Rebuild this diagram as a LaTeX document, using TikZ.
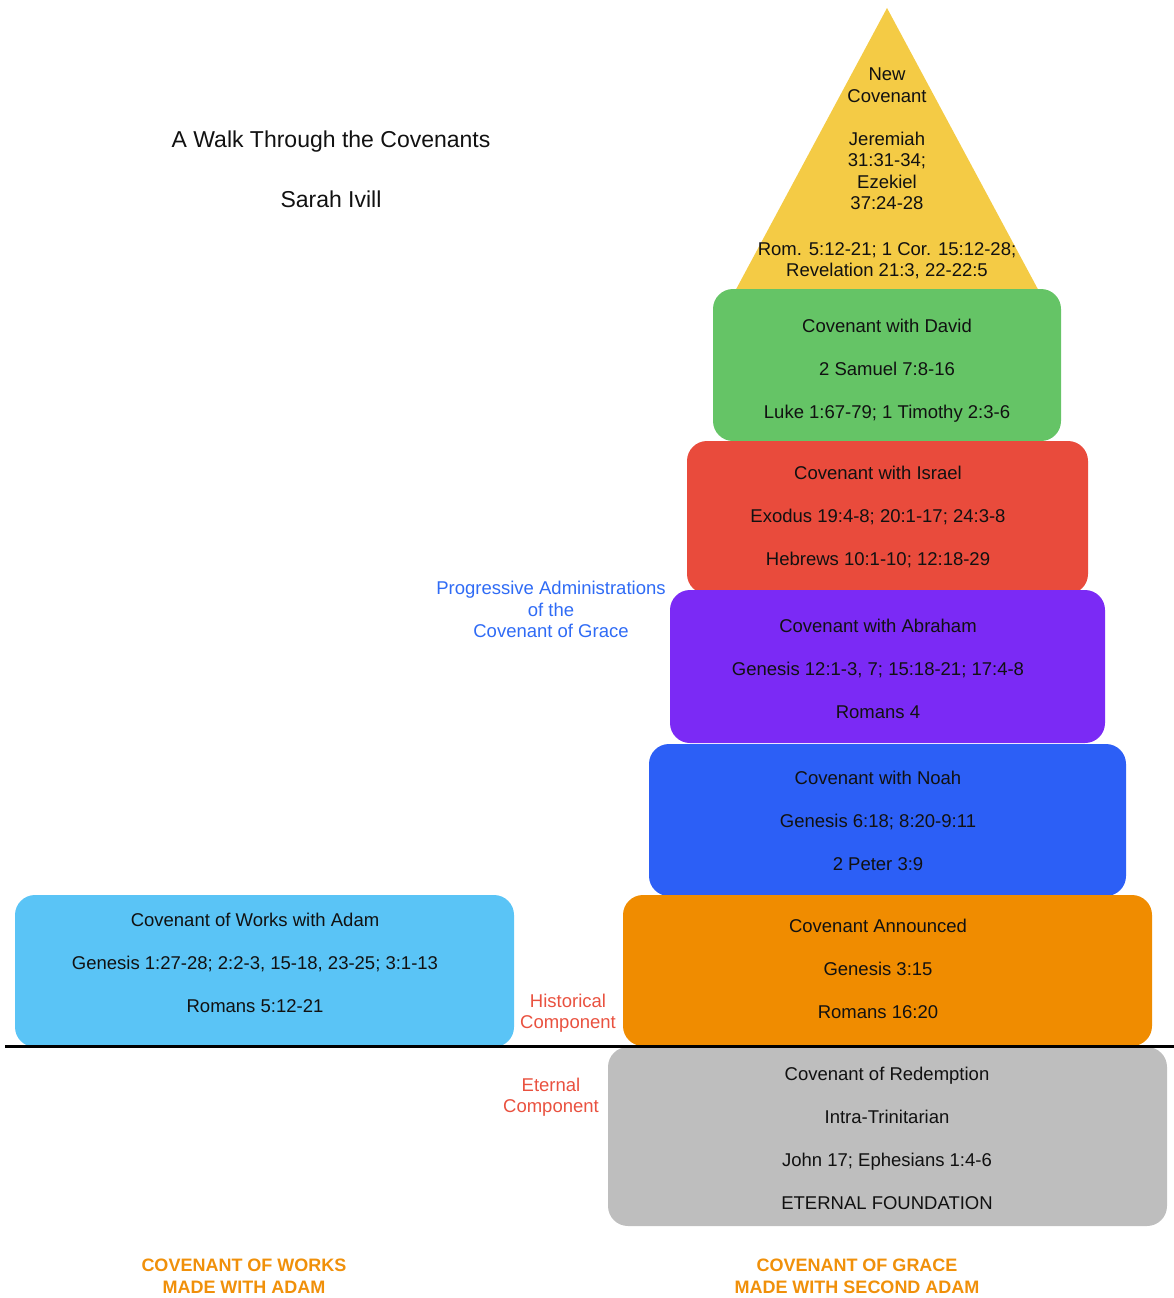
\documentclass[tikz,border=0pt]{standalone}
\usepackage{fontspec}
\setmainfont{Liberation Sans}
\definecolor{cyel}{HTML}{F4CB45}
\definecolor{cgreen}{HTML}{65C466}
\definecolor{cred}{HTML}{E94B3C}
\definecolor{cpurple}{HTML}{7B2AF5}
\definecolor{cblue}{HTML}{2C5FF6}
\definecolor{corange}{HTML}{F08C00}
\definecolor{cgrey}{HTML}{BEBEBE}
\definecolor{clight}{HTML}{5AC4F6}
\definecolor{tblue}{HTML}{2F6BF5}
\definecolor{tred}{HTML}{E9513F}
\definecolor{torange}{HTML}{F0900A}
\definecolor{tblack}{HTML}{111111}
\begin{document}
\begin{tikzpicture}[x=1pt,y=-1pt,
  box/.style={rounded corners=20pt, inner sep=0pt},
  btext/.style={align=center, text=tblack, inner sep=0pt,
    font=\fontsize{18.5}{21.5}\selectfont},
  lbl/.style={align=center, font=\fontsize{18.5}{21.5}\selectfont},
  foot/.style={align=center, text=torange, font=\fontsize{18}{22}\selectfont\bfseries}]
\useasboundingbox (0,0) rectangle (1174,1298);
% pyramid top
\fill[cyel] (887,8) -- (1048,308) -- (726,308) -- cycle;
\node[lbl, text=tblack] (newcov) at (887,173.5) {New\\Covenant\\[21.5pt]Jeremiah\\31:31-34;\\Ezekiel\\37:24-28\\[24pt]Rom. 5:12-21; 1 Cor. 15:12-28;\\Revelation 21:3, 22-22:5};
% boxes
\node[box, fill=cgreen, minimum width=348pt, minimum height=152pt] (david) at (887,365) {};
\node[box, fill=cred, minimum width=401pt, minimum height=153pt] (israel) at (887.5,517.5) {};
\node[box, fill=cpurple, minimum width=435pt, minimum height=153pt] (abraham) at (887.5,666.5) {};
\node[box, fill=cblue, minimum width=477pt, minimum height=152pt] (noah) at (887.5,820) {};
\node[box, fill=corange, minimum width=529pt, minimum height=151pt] (announced) at (887.5,970.5) {};
\node[box, fill=cgrey, minimum width=559pt, minimum height=179pt] (redemption) at (887.5,1136.5) {};
\node[box, fill=clight, minimum width=499pt, minimum height=152pt] (works) at (264.5,971) {};
% box texts
\node[btext] (tdavid) at (887,371)
  {Covenant with David\\[21.5pt]2 Samuel 7:8-16\\[21.5pt]Luke 1:67-79; 1 Timothy 2:3-6};
\node[btext] (tisrael) at (878,516.5)
  {Covenant with Israel\\[21.5pt]Exodus 19:4-8; 20:1-17; 24:3-8\\[21.5pt]Hebrews 10:1-10; 12:18-29};
\node[btext] (tabraham) at (878,668.5)
  {Covenant with Abraham\\[21.5pt]Genesis 12:1-3, 7; 15:18-21; 17:4-8\\[21.5pt]Romans 4};
\node[btext] (tnoah) at (878,820.5)
  {Covenant with Noah\\[21.5pt]Genesis 6:18; 8:20-9:11\\[21.5pt]2 Peter 3:9};
\node[btext] (tannounced) at (878,968.5)
  {Covenant Announced\\[21.5pt]Genesis 3:15\\[21.5pt]Romans 16:20};
\node[btext] (tredemption) at (887,1138)
  {Covenant of Redemption\\[21.5pt]Intra-Trinitarian\\[21.5pt]John 17; Ephesians 1:4-6\\[21.5pt]ETERNAL FOUNDATION};
\node[btext] (tworks) at (255,962.5)
  {Covenant of Works with Adam\\[21.5pt]Genesis 1:27-28; 2:2-3, 15-18, 23-25; 3:1-13\\[21.5pt]Romans 5:12-21};
% dividing line
\coordinate (lineL) at (5,1046);
\coordinate (lineR) at (1174,1046);
\draw[line width=3pt, black] (lineL) -- (lineR);
% titles
\node[font=\fontsize{23}{27}\selectfont, text=tblack] (title) at (331,142) {A Walk Through the Covenants};
\node[font=\fontsize{23}{27}\selectfont, text=tblack] (author) at (331,199) {Sarah Ivill};
% side labels
\node[lbl, text=tblue] (prog) at (551,609.5) {Progressive Administrations\\of the\\Covenant of Grace};
\node[lbl, text=tred] (hist) at (568,1013) {Historical\\Component};
\node[lbl, text=tred] (etern) at (551,1097) {Eternal\\Component};
% footers
\node[foot] (fworks) at (244,1276) {COVENANT OF WORKS\\MADE WITH ADAM};
\node[foot] (fgrace) at (857,1276) {COVENANT OF GRACE\\MADE WITH SECOND ADAM};
\end{tikzpicture}
\end{document}
